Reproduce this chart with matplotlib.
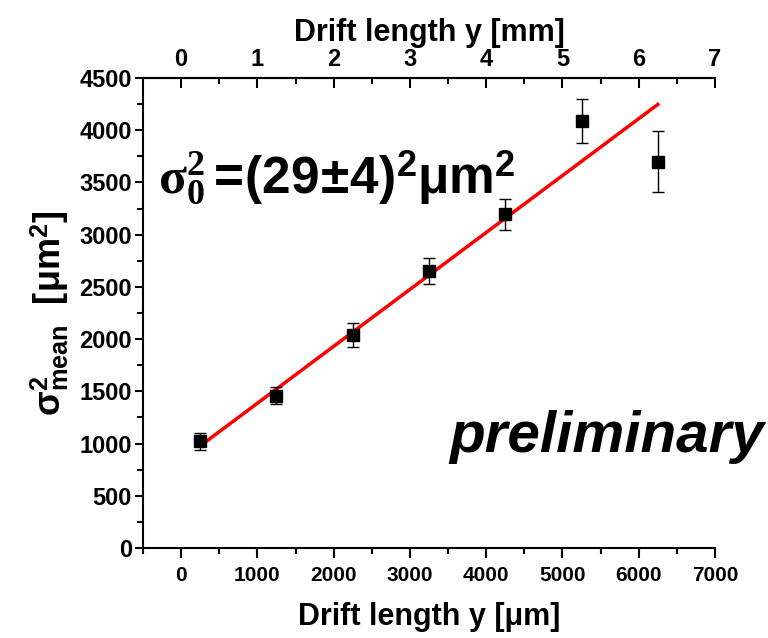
import matplotlib
matplotlib.use('Agg')
import matplotlib.pyplot as plt
import numpy as np

# drift length in um, sigma^2 mean in um^2
drift = [250, 1250, 2250, 3250, 4250, 5250, 6250]
sigma2 = [1020, 1460, 2035, 2655, 3195, 4090, 3700]
sigma2_err = [80, 80, 115, 125, 150, 210, 290]

# linear fit: sigma^2 = sigma0^2 + slope * y
fit_x = [250, 6250]
fit_sigma0 = 29
fit_slope = 0.545

plt.rcParams['font.family'] = ['Liberation Sans', 'DejaVu Sans']
plt.rcParams['font.weight'] = 'bold'
plt.rcParams['mathtext.fontset'] = 'custom'
plt.rcParams['mathtext.rm'] = 'Liberation Serif'
plt.rcParams['mathtext.it'] = 'Liberation Serif:italic'
plt.rcParams['mathtext.bf'] = 'Liberation Sans:bold'

fig = plt.figure(figsize=(7.68, 6.38), dpi=100)
ax = fig.add_axes([0.1862, 0.1411, 0.7448, 0.7366])

ax.errorbar(drift, sigma2, yerr=sigma2_err, fmt='s', color='black',
            markersize=8, elinewidth=1, capsize=4, capthick=1, zorder=3)

fx = np.array(fit_x)
ax.plot(fx, fit_sigma0 ** 2 + fit_slope * fx, color='red', lw=2.5, zorder=2)

ax.set_xlim(-500, 7000)
ax.set_ylim(0, 4500)
ax.set_xticks(np.arange(0, 7001, 1000))
ax.set_xticks(np.arange(-500, 7001, 500), minor=True)
ax.set_yticks(np.arange(0, 4501, 500))
ax.set_yticks(np.arange(0, 4501, 250), minor=True)

ax.spines['right'].set_visible(False)
for s in ['left', 'bottom', 'top']:
    ax.spines[s].set_linewidth(1.5)

ax.tick_params(axis='x', which='major', direction='out', length=7, width=1.5,
               labelsize=15, pad=6)
ax.tick_params(axis='x', which='minor', direction='out', length=4, width=1.5)
ax.tick_params(axis='y', which='major', direction='out', length=6, width=1.5,
               labelsize=17, pad=2)
ax.tick_params(axis='y', which='minor', direction='out', length=4, width=1.5)

ax.set_xlabel('Drift length y [μm]', fontsize=22, fontweight='bold', labelpad=12)
ax.set_ylabel(r'$\mathbf{σ}^{\mathbf{2}}_{\mathbf{mean}}$  [μm$^{\mathbf{2}}$]',
              fontsize=26, fontweight='bold', labelpad=6)

top = ax.secondary_xaxis('top', functions=(lambda v: v / 1000, lambda v: v * 1000))
top.set_xticks(np.arange(0, 8, 1))
top.set_xticks(np.arange(0, 7.01, 0.5), minor=True)
top.tick_params(which='major', direction='in', length=7, width=1.5, labelsize=17, pad=5)
top.tick_params(which='minor', direction='in', length=4, width=1.5)
top.spines['top'].set_linewidth(1.5)
top.set_xlabel('Drift length y [mm]', fontsize=22, fontweight='bold', labelpad=5)

ax.text(-300, 3550,
        r'$\mathrm{σ}^{2}_{0}\,\mathbf{\!=\!(29\!\pm\!4)}^{\mathbf{2}}\mathbf{μm}^{\mathbf{2}}$',
        fontsize=37, va='center', ha='left')
ax.text(7650, 1060, 'preliminary', fontsize=42, fontweight='bold',
        fontstyle='italic', ha='right', va='center', clip_on=False)

fig.savefig('out.png', dpi=100)
